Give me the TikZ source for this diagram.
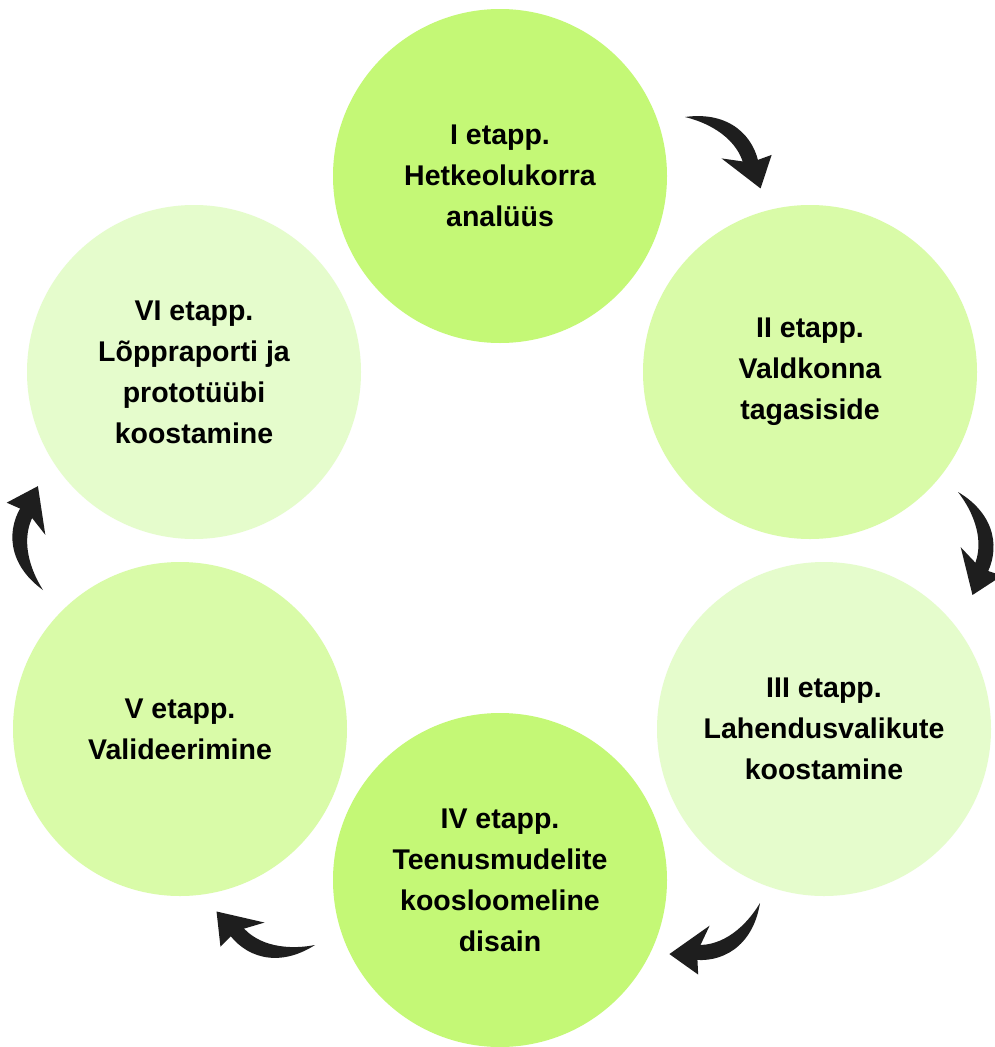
\documentclass[tikz,border=0pt]{standalone}
\usepackage{fontspec}
\setmainfont{Liberation Sans}
\definecolor{gbright}{RGB}{196,248,118}
\definecolor{gmid}{RGB}{217,251,168}
\definecolor{glight}{RGB}{229,252,204}
\definecolor{arrowink}{RGB}{30,30,30}
\newcommand\stagearrow[2]{%
  \begin{scope}[shift={(#1)}, rotate=#2]
    \fill[arrowink] (0,0) .. controls (28,35) and (64,34) .. (88,15)
      -- (79,3) .. controls (60,18) and (30,17) .. (0,0) -- cycle;
    \fill[arrowink] (104,0) -- (89,32) -- (79,12) -- (55,-5) -- cycle;
  \end{scope}}
\begin{document}
\begin{tikzpicture}[x=1pt,y=1pt,
  stage/.style={circle, minimum size=334pt, inner sep=0pt, align=center,
    font=\fontsize{28.5}{41}\selectfont\bfseries, text=black}]
\useasboundingbox (0,0) rectangle (994,-1047);
\fill[white] (0,0) rectangle (994,-1047);
\node[stage, fill=gbright] (s1) at (500,-176) {I etapp.\\Hetkeolukorra\\analüüs};
\node[stage, fill=gmid]    (s2) at (810,-372) {II etapp.\\Valdkonna\\tagasiside};
\node[stage, fill=glight]  (s3) at (824,-729) {III etapp.\\Lahendusvalikute\\koostamine};
\node[stage, fill=gbright] (s4) at (500,-880) {IV etapp.\\Teenusmudelite\\koosloomeline\\disain};
\node[stage, fill=gmid]    (s5) at (180,-729) {V etapp.\\Valideerimine};
\node[stage, fill=glight]  (s6) at (194,-372) {VI etapp.\\Lõppraporti ja\\prototüübi\\koostamine};
\coordinate (a12) at (685,-117);
\coordinate (a23) at (958,-492);
\coordinate (a34) at (760,-903);
\coordinate (a45) at (315,-945);
\coordinate (a56) at (43,-590);
\stagearrow{a12}{-43.4}
\stagearrow{a23}{-82}
\stagearrow{a34}{209.4}
\stagearrow{a45}{161.2}
\stagearrow{a56}{92.8}
\end{tikzpicture}
\end{document}
